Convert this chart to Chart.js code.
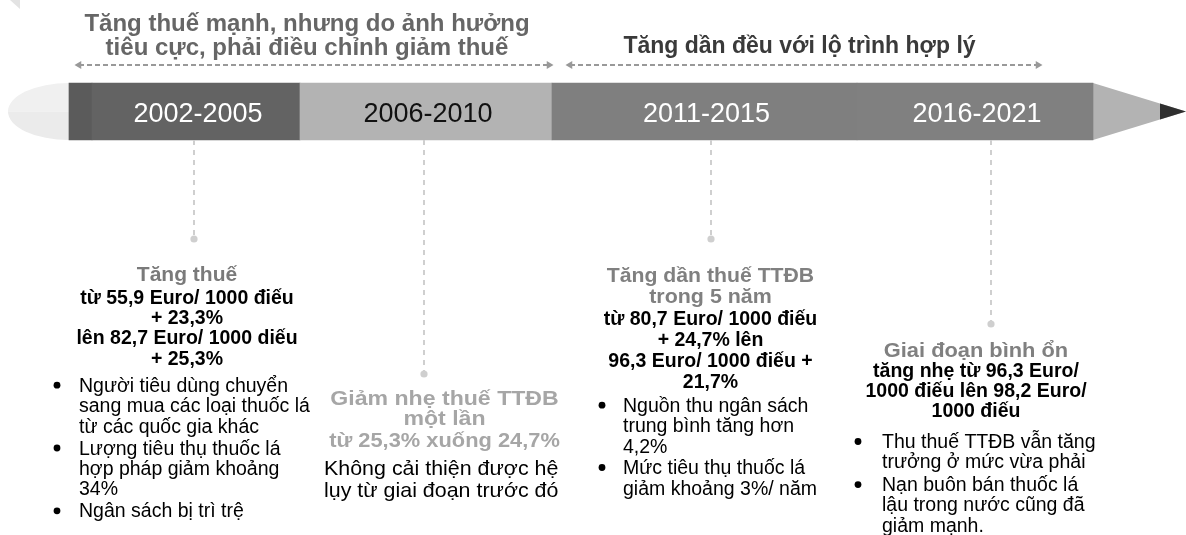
<!DOCTYPE html>
<html lang="vi">
<head>
<meta charset="utf-8">
<title>Lộ trình thuế TTĐB thuốc lá</title>
<script src="https://cdn.jsdelivr.net/npm/chart.js@4.4.1/dist/chart.umd.min.js"></script>
<style>
  html, body { margin: 0; padding: 0; background: #fff; }
  #timeline { display: block; }
</style>
</head>
<body>
<canvas id="timeline" width="1186" height="535"></canvas>
<script>
// Thân bút chì: các đoạn thời kỳ (đơn vị = trục x của biểu đồ)
const segmentLabels = ["", "2002-2005", "2006-2010", "2011-2015", "2016-2021"];
const segmentFrom = [69, 92, 300, 552, 857];
const segmentTo = [92, 300, 552, 857, 1093];

// Hai giai đoạn lớn phía trên
const phaseTitles = [
  ["Tăng thuế mạnh, nhưng do ảnh hưởng", "tiêu cực, phải điều chỉnh giảm thuế"],
  ["Tăng dần đều với lộ trình hợp lý"]
];
const phaseFrom = [79, 570];
const phaseTo = [549, 1038];

// Nội dung từng thời kỳ
const headings = [
  ["Tăng thuế"],
  ["Giảm nhẹ thuế TTĐB", "một lần", "từ 25,3% xuống 24,7%"],
  ["Tăng dần thuế TTĐB", "trong 5 năm"],
  ["Giai đoạn bình ổn"]
];
const taxLines = [
  ["từ 55,9 Euro/ 1000 điếu", "+ 23,3%", "lên 82,7 Euro/ 1000 diếu", "+ 25,3%"],
  [],
  ["từ 80,7 Euro/ 1000 điếu", "+ 24,7% lên", "96,3 Euro/ 1000 điếu +", "21,7%"],
  ["tăng nhẹ từ 96,3 Euro/", "1000 điếu lên 98,2 Euro/", "1000 điếu"]
];
const outcomes = [
  [["Người tiêu dùng chuyển", "sang mua các loại thuốc lá", "từ các quốc gia khác"],
   ["Lượng tiêu thụ thuốc lá", "hợp pháp giảm khoảng", "34%"],
   ["Ngân sách bị trì trệ"]],
  [],
  [["Nguồn thu ngân sách", "trung bình tăng hơn", "4,2%"],
   ["Mức tiêu thụ thuốc lá", "giảm khoảng 3%/ năm"]],
  [["Thu thuế TTĐB vẫn tăng", "trưởng ở mức vừa phải"],
   ["Nạn buôn bán thuốc lá", "lậu trong nước cũng đã", "giảm mạnh."]]
];
const notes = [[], ["Không cải thiện được hệ", "lụy từ giai đoạn trước đó"], [], []];

// Bố cục (vị trí, cỡ chữ) — không phải dữ liệu
const FONT = '"Liberation Sans", Arial, sans-serif';
const BAR_Y = 111.5, BAR_H = 57;
const segmentColors = ["#5b5b5b", "#636363", "#b3b3b3", "#7f7f7f", "#808080"];
const labelColors = ["#fff", "#fff", "#111", "#fff", "#fff"];
const pins = [
  { x: 194, y: 239 }, { x: 424, y: 374 }, { x: 711, y: 239 }, { x: 991, y: 324 }
];
const blocks = [
  { cx: 187, headY: [281], headSize: [21], headSx: [1.0], headColor: "#7a7a7a",
    boldY: [303.7, 324, 344.3, 364.6], textX: 79, dotX: 57, bulletY0: 391.7, lineH: 20.4, gap: 1.6 },
  { cx: 444.5, headY: [405, 425, 447], headSize: [21, 21, 21], headSx: [1.1, 1.1, 1.04], headColor: "#a6a6a6",
    boldY: [], noteX: 324, noteY: [475, 497] },
  { cx: 710.5, headY: [281.7, 303], headSize: [21, 21], headSx: [1.01, 1.02], headColor: "#808080",
    boldY: [325, 346, 366.7, 388], textX: 623, dotX: 602, bulletY0: 411.7, lineH: 20.5, gap: 0.8 },
  { cx: 976, headY: [356.5], headSize: [21], headSx: [1.04], headColor: "#808080",
    boldY: [377, 397, 417], textX: 882, dotX: 858, bulletY0: 448, lineH: 20.3, gap: 2.5 }
];

function drawText(ctx, str, x, y, o) {
  ctx.save();
  ctx.font = (o.bold ? "bold " : "") + o.size + "px " + FONT;
  ctx.fillStyle = o.color;
  ctx.textAlign = o.align || "center";
  ctx.textBaseline = "alphabetic";
  ctx.translate(x, y);
  ctx.scale(o.sx || 1, 1);
  ctx.fillText(str, 0, 0);
  ctx.restore();
}

// Tẩy, đầu chì và góc trang trí
const pencilParts = {
  id: "pencilParts",
  beforeDatasetsDraw(chart) {
    const { ctx, scales: { x, y } } = chart;
    const top = y.getPixelForValue(BAR_Y) - BAR_H / 2;
    const mid = y.getPixelForValue(BAR_Y);
    const bot = top + BAR_H;
    const left = x.getPixelForValue(segmentFrom[0]);
    const right = x.getPixelForValue(segmentTo[segmentTo.length - 1]);

    // góc tam giác nhỏ
    ctx.save();
    ctx.fillStyle = "#e3e3e3";
    ctx.beginPath();
    ctx.moveTo(10, 0); ctx.lineTo(20, 0); ctx.lineTo(20, 9); ctx.closePath();
    ctx.fill();

    // tẩy (nửa elip)
    const rx = left - 8, ry = BAR_H / 2;
    ctx.fillStyle = "#f0f0f0";
    ctx.beginPath();
    ctx.ellipse(left, mid, rx, ry, 0, Math.PI, Math.PI * 1.5);
    ctx.lineTo(left, mid); ctx.closePath(); ctx.fill();
    ctx.fillStyle = "#ebebeb";
    ctx.beginPath();
    ctx.ellipse(left, mid, rx, ry, 0, Math.PI * 0.5, Math.PI);
    ctx.lineTo(left, mid); ctx.closePath(); ctx.fill();

    // đầu chì
    const apex = 1186;
    ctx.fillStyle = "#b3b3b3";
    ctx.beginPath();
    ctx.moveTo(right, top); ctx.lineTo(apex, mid); ctx.lineTo(right, bot); ctx.closePath();
    ctx.fill();
    const lx = 1160, t = (lx - right) / (apex - right);
    ctx.fillStyle = "#2f2f2f";
    ctx.beginPath();
    ctx.moveTo(lx, top + (mid - top) * t); ctx.lineTo(apex, mid); ctx.lineTo(lx, bot - (bot - mid) * t);
    ctx.closePath(); ctx.fill();
    ctx.restore();
  }
};

// Chữ: nhãn thời kỳ, tiêu đề và ghi chú
const textLayer = {
  id: "textLayer",
  afterDatasetsDraw(chart) {
    const { ctx, scales: { x, y } } = chart;
    const mid = y.getPixelForValue(BAR_Y);

    segmentLabels.forEach((lab, i) => {
      if (!lab) return;
      const cx = x.getPixelForValue((segmentFrom[i] + segmentTo[i]) / 2) + 2;
      drawText(ctx, lab, cx, mid + 10.2, { size: 27, color: labelColors[i] });
    });

    // tiêu đề giai đoạn
    const c0 = (x.getPixelForValue(phaseFrom[0]) + x.getPixelForValue(phaseTo[0])) / 2 - 7;
    drawText(ctx, phaseTitles[0][0], c0, 30.7, { size: 24, bold: true, color: "#666" });
    drawText(ctx, phaseTitles[0][1], c0, 55, { size: 24, bold: true, color: "#666" });
    const c1 = (x.getPixelForValue(phaseFrom[1]) + x.getPixelForValue(phaseTo[1])) / 2 - 4.5;
    drawText(ctx, phaseTitles[1][0], c1, 53.3, { size: 23, bold: true, color: "#3a3a3a" });

    blocks.forEach((b, i) => {
      headings[i].forEach((h, k) => {
        drawText(ctx, h, b.cx, b.headY[k], { size: b.headSize[k], sx: b.headSx[k], bold: true, color: b.headColor });
      });
      taxLines[i].forEach((t, k) => {
        drawText(ctx, t, b.cx, b.boldY[k], { size: 19.5, bold: true, color: "#000" });
      });
      notes[i].forEach((t, k) => {
        drawText(ctx, t, b.noteX, b.noteY[k], { size: 21, sx: 1.02, color: "#000", align: "left" });
      });
      let yy = b.bulletY0;
      outcomes[i].forEach((item) => {
        ctx.save();
        ctx.fillStyle = "#000";
        ctx.beginPath();
        ctx.arc(b.dotX, yy - 6.5, 3.4, 0, Math.PI * 2);
        ctx.fill();
        ctx.restore();
        item.forEach((ln) => {
          drawText(ctx, ln, b.textX, yy, { size: 19.5, color: "#000", align: "left" });
          yy += b.lineH;
        });
        yy += b.gap;
      });
    });
  }
};

const barBottom = BAR_Y + BAR_H / 2;

const datasets = [
  {
    type: "bar",
    label: "Thời kỳ",
    indexAxis: "y",
    data: segmentLabels.map((_, i) => ({ x: [segmentFrom[i], segmentTo[i]], y: BAR_Y })),
    backgroundColor: segmentColors,
    borderWidth: 0,
    barThickness: BAR_H,
    order: 3
  },
  ...pins.map((p, i) => ({
    type: "line",
    label: "Mốc " + segmentLabels[i + 1],
    data: [{ x: p.x, y: barBottom }, { x: p.x, y: p.y }],
    borderColor: "#cfcfcf",
    borderWidth: 2,
    borderDash: [5, 5],
    pointRadius: [0, 3.6],
    pointBackgroundColor: "#cfcfcf",
    pointBorderWidth: 0,
    order: 1
  })),
  ...phaseFrom.map((f, i) => ({
    type: "line",
    label: "Giai đoạn " + (i + 1),
    data: [{ x: f, y: 65 }, { x: phaseTo[i], y: 65 }],
    borderColor: "#999",
    borderWidth: 1.8,
    borderDash: [5, 3],
    pointStyle: "triangle",
    rotation: [-90, 90],
    pointRadius: 4.5,
    pointBackgroundColor: "#999",
    pointBorderWidth: 0,
    order: 1
  }))
];

new Chart(document.getElementById("timeline"), {
  type: "line",
  data: { datasets },
  options: {
    responsive: false,
    devicePixelRatio: 1,
    animation: false,
    events: [],
    layout: { padding: 0, autoPadding: false },
    plugins: { legend: { display: false }, tooltip: { enabled: false } },
    scales: {
      x: { type: "linear", min: 0, max: 1186, offset: false, display: false },
      y: { type: "linear", min: 0, max: 535, reverse: true, offset: false, display: false }
    }
  },
  plugins: [pencilParts, textLayer]
});
</script>
</body>
</html>
